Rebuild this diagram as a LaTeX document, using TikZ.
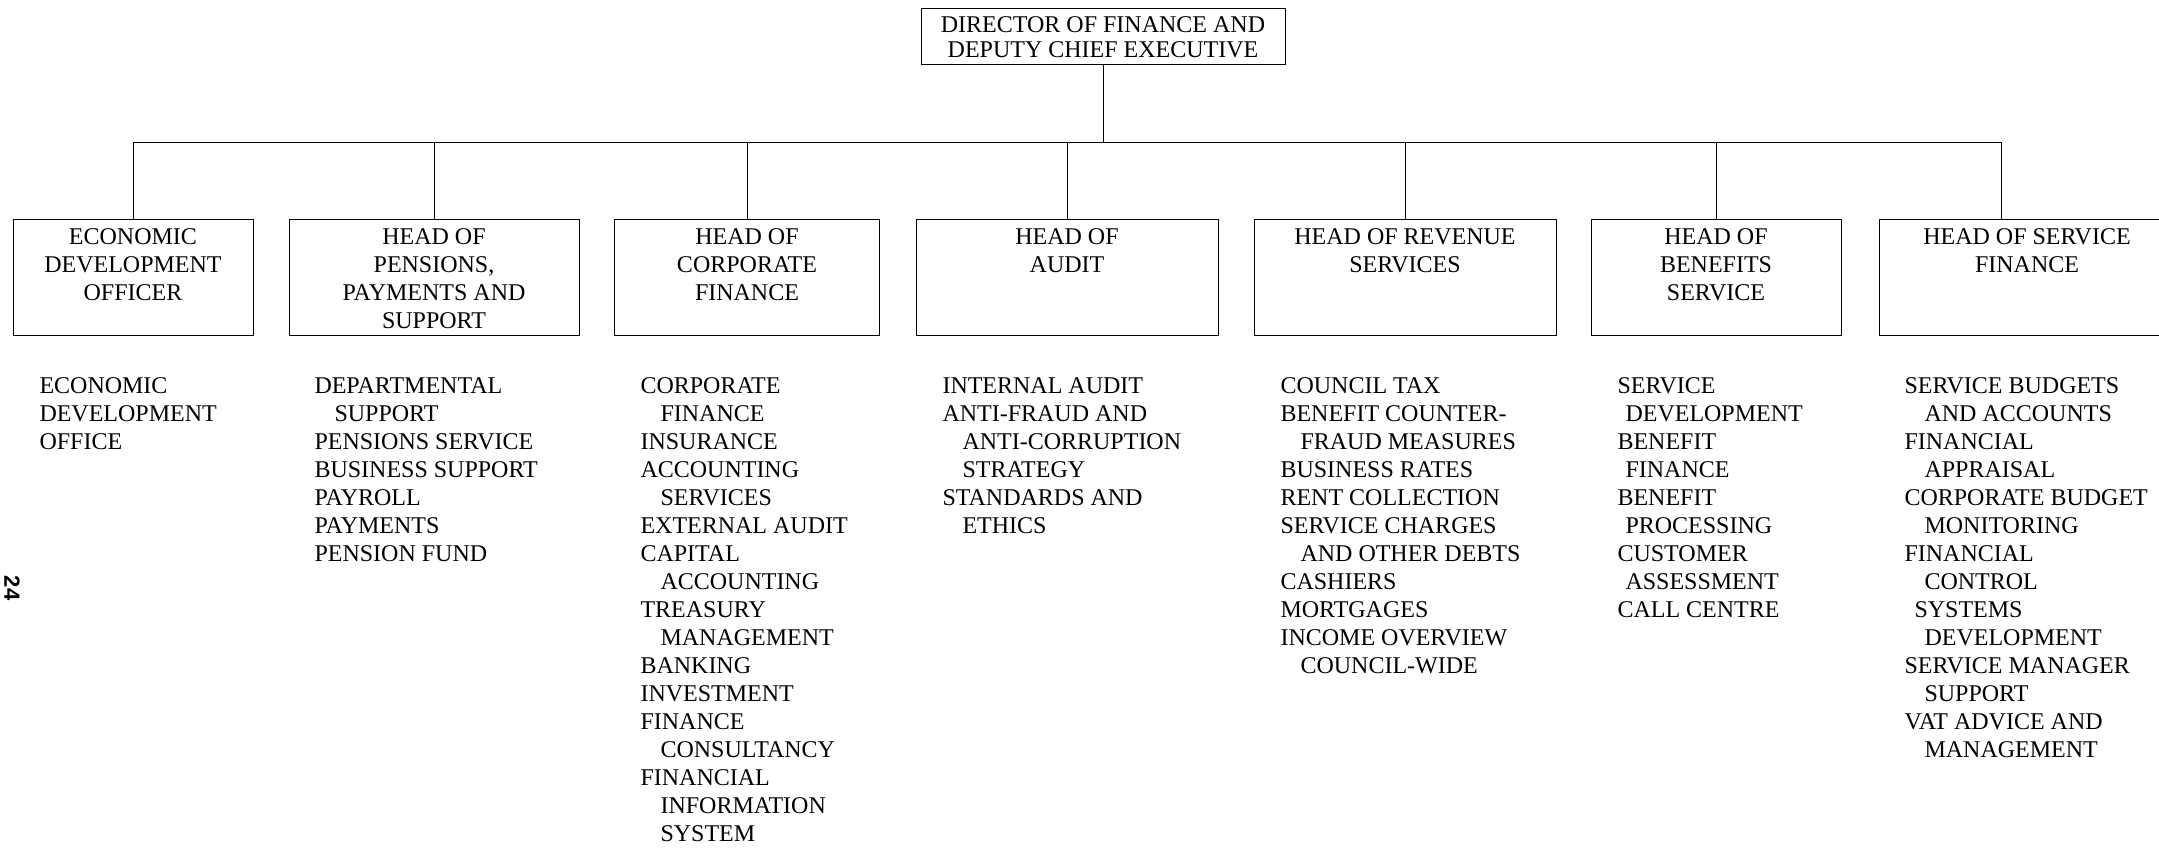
\documentclass[tikz,border=0pt]{standalone}
\usepackage{fontspec}
\setmainfont{Liberation Serif}
\newfontfamily\pagenofont{Liberation Sans}

\newcommand{\ind}{\hspace*{20pt}}

\begin{document}
\begin{tikzpicture}[x=1pt, y=-1pt, line width=1pt, font=\fontsize{24}{28}\selectfont]

    \tikzstyle{head} = [rectangle, draw=black, anchor=north, minimum height=116pt, inner sep=0pt]
    \tikzstyle{lbl}  = [anchor=north, align=center, inner sep=0pt, yshift=-9pt]
    \tikzstyle{duty} = [anchor=north west, align=left, inner sep=0pt]

    \useasboundingbox (0,0) rectangle (2159,853);

    \node (dir) [rectangle, draw=black, minimum width=364pt, minimum height=56pt, align=center, inner sep=0pt] at (1103,37) {DIRECTOR OF FINANCE AND\\[-3pt]DEPUTY CHIEF EXECUTIVE};

    \node (eco)  [head, minimum width=240pt, label={[lbl]north:ECONOMIC\\DEVELOPMENT\\OFFICER}]           at (133,219)  {};
    \node (pens) [head, minimum width=290pt, label={[lbl]north:HEAD OF\\PENSIONS,\\PAYMENTS AND\\SUPPORT}] at (434,219)  {};
    \node (corp) [head, minimum width=265pt, label={[lbl]north:HEAD OF\\CORPORATE\\FINANCE}]              at (747,219)  {};
    \node (aud)  [head, minimum width=302pt, label={[lbl]north:HEAD OF\\AUDIT}]                          at (1067,219) {};
    \node (rev)  [head, minimum width=302pt, label={[lbl]north:HEAD OF REVENUE\\SERVICES}]               at (1405,219) {};
    \node (ben)  [head, minimum width=250pt, label={[lbl]north:HEAD OF\\BENEFITS\\SERVICE}]              at (1716,219) {};
    \node (sfin) [head, minimum width=296pt, label={[lbl]north:HEAD OF SERVICE\\FINANCE}]                at (2027,219) {};

    % connectors
    \coordinate (bar) at (1103,143);
    \coordinate (sfin-top) at ([xshift=-26pt]sfin.north);
    \draw (dir.south) -- (bar);
    \draw (eco.north) |- (sfin-top |- bar) -- (sfin-top);
    \foreach \n in {pens, corp, aud, rev, ben}
        \draw (\n.north) -- (\n.north |- bar);

    % duties under each head
    \node (eco-list)  [duty] at (39,377)   {ECONOMIC\\DEVELOPMENT\\OFFICE};
    \node (pens-list) [duty] at (314,377)  {DEPARTMENTAL\\\ind SUPPORT\\PENSIONS SERVICE\\BUSINESS SUPPORT\\PAYROLL\\PAYMENTS\\PENSION FUND};
    \node (corp-list) [duty] at (640,377)  {CORPORATE\\\ind FINANCE\\INSURANCE\\ACCOUNTING\\\ind SERVICES\\EXTERNAL AUDIT\\CAPITAL\\\ind ACCOUNTING\\TREASURY\\\ind MANAGEMENT\\BANKING\\INVESTMENT\\FINANCE\\\ind CONSULTANCY\\FINANCIAL\\\ind INFORMATION\\\ind SYSTEM};
    \node (aud-list)  [duty] at (942,377)  {INTERNAL AUDIT\\ANTI-FRAUD AND\\\ind ANTI-CORRUPTION\\\ind STRATEGY\\STANDARDS AND\\\ind ETHICS};
    \node (rev-list)  [duty] at (1280,377) {COUNCIL TAX\\BENEFIT COUNTER-\\\ind FRAUD MEASURES\\BUSINESS RATES\\RENT COLLECTION\\SERVICE CHARGES\\\ind AND OTHER DEBTS\\CASHIERS\\MORTGAGES\\INCOME OVERVIEW\\\ind COUNCIL-WIDE};
    \node (ben-list)  [duty] at (1617,377) {SERVICE\\\hspace*{8pt}DEVELOPMENT\\BENEFIT\\\hspace*{8pt}FINANCE\\BENEFIT\\\hspace*{8pt}PROCESSING\\CUSTOMER\\\hspace*{8pt}ASSESSMENT\\CALL CENTRE};
    \node (sfin-list) [duty] at (1904,377) {SERVICE BUDGETS\\\ind AND ACCOUNTS\\FINANCIAL\\\ind APPRAISAL\\CORPORATE BUDGET\\\ind MONITORING\\FINANCIAL\\\ind CONTROL\\\hspace*{10pt}SYSTEMS\\\ind DEVELOPMENT\\SERVICE MANAGER\\\ind SUPPORT\\VAT ADVICE AND\\\ind MANAGEMENT};

    \node (pageno) [rotate=-90, font=\pagenofont\bfseries\fontsize{22}{26}\selectfont] at (12,588) {24};

\end{tikzpicture}
\end{document}
